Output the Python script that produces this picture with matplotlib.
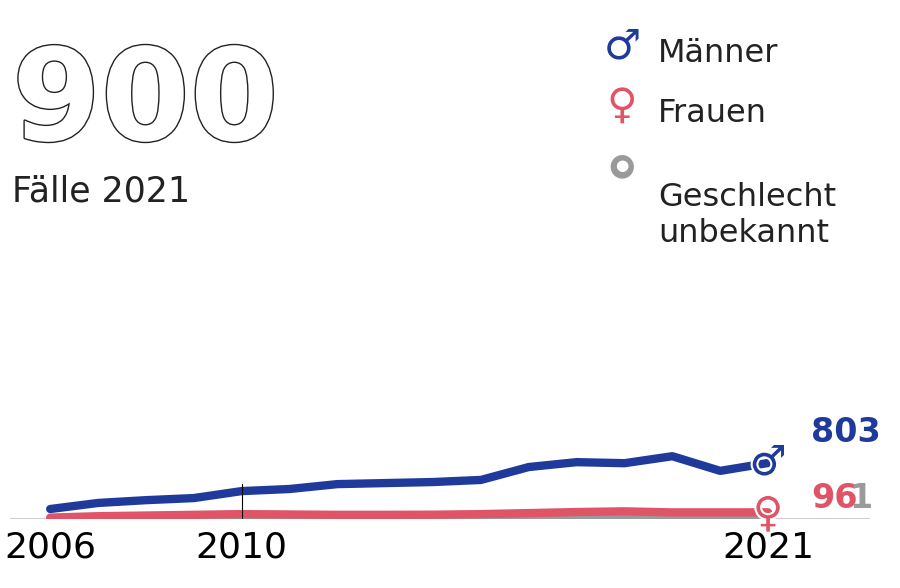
import matplotlib.pyplot as plt
import matplotlib.patheffects as pe

years = list(range(2006, 2022))
maenner = [143, 230, 270, 300, 400, 430, 500, 515, 530, 560, 745, 815, 800, 900, 690, 803]
frauen = [20, 40, 50, 60, 70, 65, 60, 60, 62, 70, 85, 100, 110, 95, 95, 96]
unbekannt = [1, 1, 1, 1, 1, 1, 1, 1, 1, 1, 1, 1, 1, 1, 1, 1]

blue = "#1f3a9a"
red = "#e05467"
grey = "#9a9a9a"
narrow = ["Liberation Sans Narrow", "DejaVu Sans"]

fig = plt.figure(figsize=(9, 5.88), dpi=100)
ax = fig.add_axes([10 / 900, 69 / 588, 860 / 900, 519 / 588])
ax.set_xlim(2005.16, 2023.13)
ax.set_ylim(0, 7440)

ax.plot(years, unbekannt, color=grey, lw=6, solid_capstyle="round", zorder=2)
ax.plot(years, frauen, color=red, lw=6, solid_capstyle="round", zorder=3)
ax.plot(years, maenner, color=blue, lw=6, solid_capstyle="round", zorder=4)

ax.axhline(0, color="black", lw=1, zorder=1)
ax.plot([2010, 2010], [0, 500], color="black", lw=0.8, zorder=5)

# end markers
ax.text(years[-1], maenner[-1], "♂", color=blue, fontsize=30, fontweight="bold",
        ha="center", va="center", zorder=6,
        path_effects=[pe.withStroke(linewidth=3, foreground="white")])
ax.text(years[-1], frauen[-1] - 30, "♀", color=red, fontsize=30, fontweight="bold",
        ha="center", va="center", zorder=6,
        path_effects=[pe.withStroke(linewidth=3, foreground="white")])

ax.text(2021.9, maenner[-1] + 430, str(maenner[-1]), color=blue, fontsize=24,
        fontweight="bold", family=narrow, ha="left", va="center")
ax.text(2021.9, frauen[-1] + 200, str(frauen[-1]), color=red, fontsize=24,
        fontweight="bold", family=narrow, ha="left", va="center")
ax.text(2022.7, frauen[-1] + 200, str(unbekannt[-1]), color=grey, fontsize=24,
        fontweight="bold", family=narrow, ha="left", va="center")

ax.set_xticks([2006, 2010, 2021])
ax.set_xticklabels(["2006", "2010", "2021"], family=narrow, fontsize=26)
ax.tick_params(axis="x", length=0, pad=8)
ax.set_yticks([])
for s in ax.spines.values():
    s.set_visible(False)

# headline
fig.text(12 / 900, 1 - 140 / 588, "900", fontsize=92, fontweight="bold", family=narrow,
         color="white", ha="left", va="baseline",
         path_effects=[pe.withStroke(linewidth=2, foreground="#222222")])
fig.text(12 / 900, 1 - 202 / 588, "Fälle 2021", fontsize=25, color="#222222",
         ha="left", va="baseline")

# legend
items = [("♂", blue, 46, "Männer"), ("♀", red, 106, "Frauen"), ("o", grey, 166, "Geschlecht\nunbekannt")]
for sym, col, y, lab in items:
    if sym == "o":
        fig.text(622 / 900, 1 - y / 588, "●", color=grey, fontsize=22, ha="center", va="center")
        fig.text(622 / 900, 1 - y / 588, "●", color="white", fontsize=11, ha="center", va="center")
    else:
        fig.text(622 / 900, 1 - y / 588, sym, color=col, fontsize=30, fontweight="bold",
                 ha="center", va="center")
    fig.text(658 / 900, 1 - (y + 16) / 588, lab, color="#222222", fontsize=23,
             ha="left", va="baseline" if "\n" not in lab else "top")

fig.savefig("out.png", dpi=100)
